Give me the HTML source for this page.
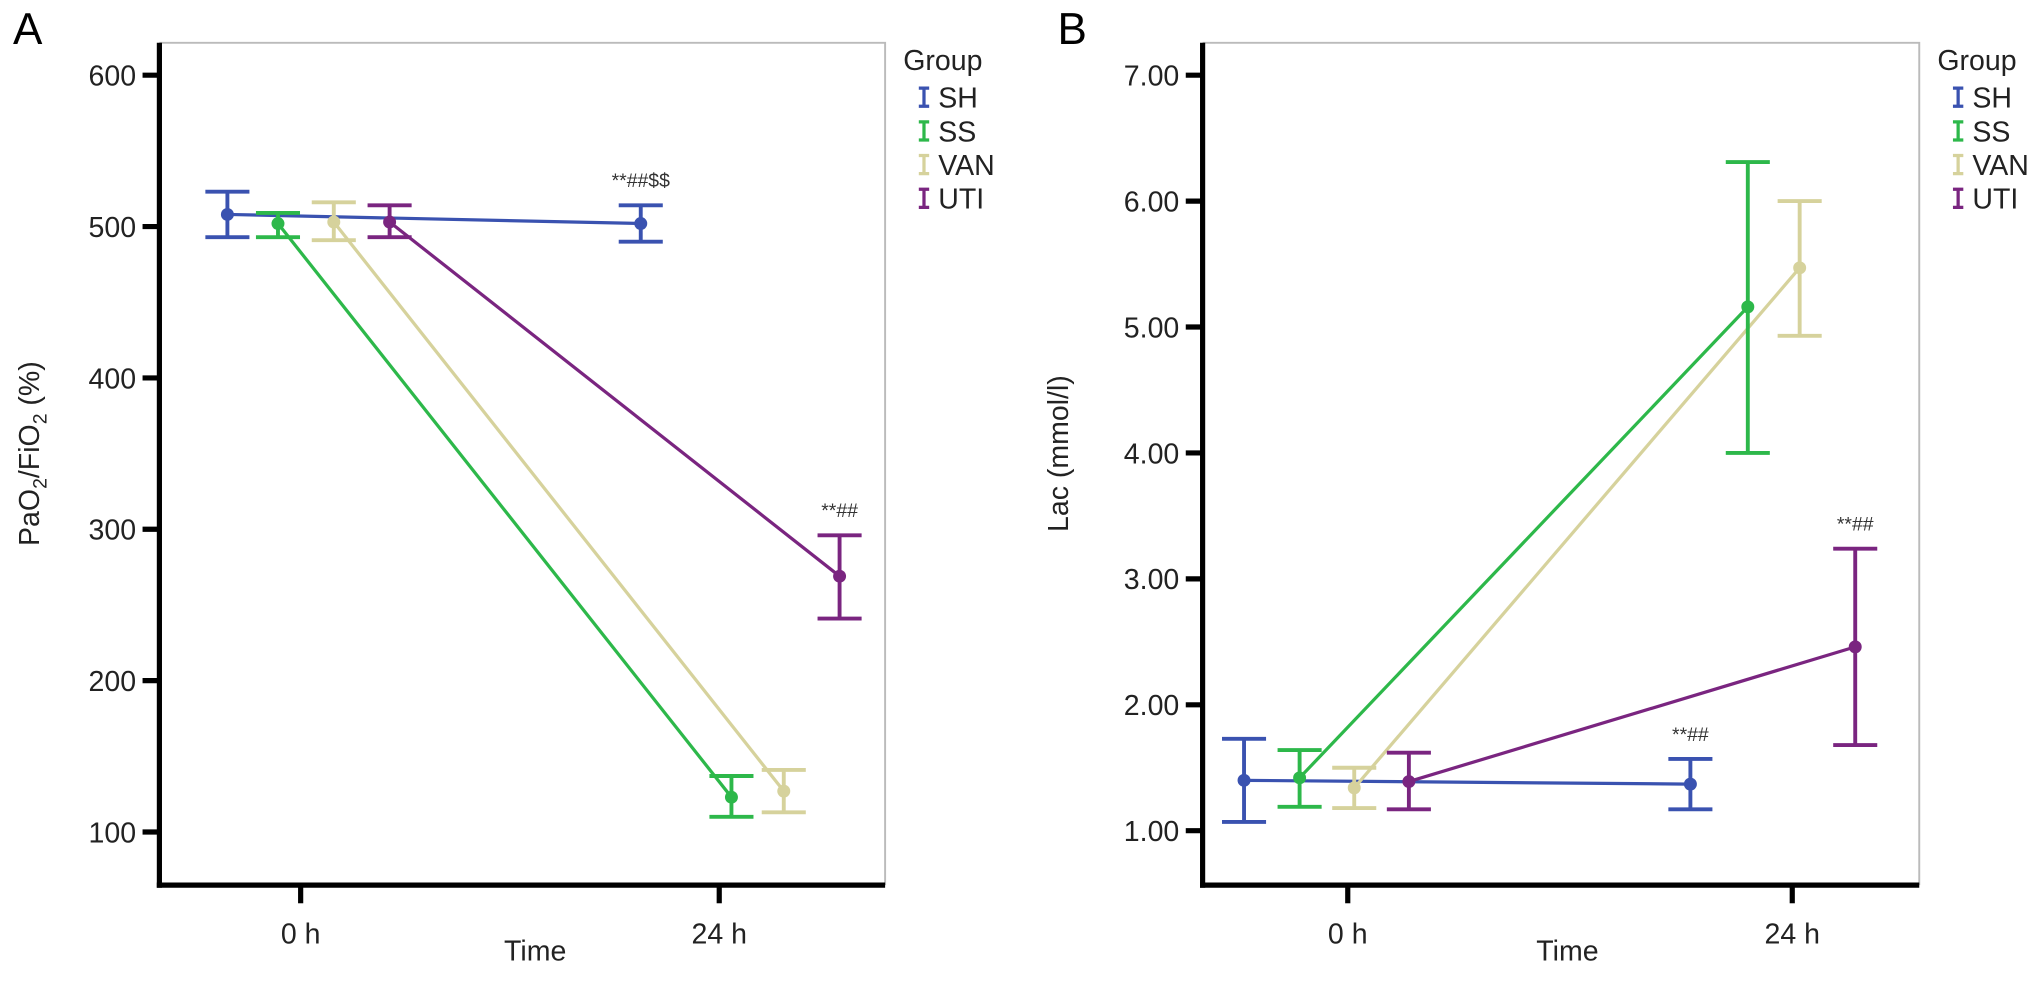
<!DOCTYPE html>
<html><head><meta charset="utf-8"><style>
body{margin:0;background:#fff;}
svg{display:block;font-family:"Liberation Sans",Arial,sans-serif;}
</style></head><body>
<svg id="fig" width="2032" height="983" viewBox="0 0 1568 758.5"></svg>
<script>
// ---- data ----
const groups = ["SH","SS","VAN","UTI"];
const colors = ["#3a52b0","#2db84a","#d6d29c","#7a2580"];
const timeLabels = ["0 h","24 h"];
// Panel A: PaO2/FiO2
const aTicks = [100,200,300,400,500,600];
const aHours = [[-4.2,19.5],[-1.3,24.7],[1.9,27.7],[5.1,30.9]];
const aMean = [[508,502],[502,123],[503,127],[503,269]];
const aLow  = [[493,490],[493,110],[491,113],[493,241]];
const aHigh = [[523,514],[509,137],[516,141],[514,296]];
const aNotes = [{g:0,t:1,text:"**##$$"},{g:3,t:1,text:"**##"}];
// Panel B: Lac
const bTicks = [1,2,3,4,5,6,7];
const bHours = [[-5.6,18.5],[-2.6,21.6],[0.35,24.4],[3.3,27.4]];
const bMean = [[1.40,1.37],[1.42,5.16],[1.34,5.47],[1.39,2.46]];
const bLow  = [[1.07,1.17],[1.19,4.00],[1.18,4.93],[1.17,1.68]];
const bHigh = [[1.73,1.57],[1.64,6.31],[1.50,6.00],[1.62,3.24]];
const bNotes = [{g:0,t:1,text:"**##"},{g:3,t:1,text:"**##"}];

const NS="http://www.w3.org/2000/svg";
const svg=document.getElementById('fig');
function mk(tag,attrs,parent,text){const e=document.createElementNS(NS,tag);for(const k in attrs)e.setAttribute(k,attrs[k]);if(text!==undefined)e.textContent=text;(parent||svg).appendChild(e);return e;}

function panel(cfg){
  const g=mk('g',{});
  
  
  const L=cfg.left,R=cfg.right,T=33,B=683;
  const y=v=>cfg.y0+(v-cfg.v0)*(cfg.y1-cfg.y0)/(cfg.v1-cfg.v0);
  const x=h=>cfg.x0+h*(cfg.x24-cfg.x0)/24;
  const frame=mk('path',{d:`M${L} ${T}H${R}V${B}`,fill:'none',stroke:'#bbb','stroke-width':1.5},g);
  
  const ya=mk('line',{x1:L,y1:T,x2:L,y2:B+2,stroke:'#000','stroke-width':4},g);
  
  const xa=mk('line',{x1:L-2,y1:B,x2:R,y2:B,stroke:'#000','stroke-width':4},g);
  
  cfg.ticks.forEach(v=>{
    const tk=mk('line',{x1:L-13,x2:L,y1:y(v),y2:y(v),stroke:'#000','stroke-width':4},g);
    
    const t=mk('text',{x:L-18,y:y(v)+8,'text-anchor':'end','font-size':22,fill:'#222'},g,cfg.fmt(v));
    
  });
  timeLabels.forEach((lab,i)=>{
    const h=i*24;
    const tk=mk('line',{x1:x(h),x2:x(h),y1:B,y2:B+14,stroke:'#000','stroke-width':4},g);
    
    const t=mk('text',{x:x(h),y:B+45,'text-anchor':'middle','font-size':22,fill:'#222'},g,lab);
    
  });
  const xt=mk('text',{x:(L+R)/2-(cfg.name==='panel-a'?-10:-5),y:741,'text-anchor':'middle','font-size':22,fill:'#222'},g,'Time');
  
  const yt=mk('text',{transform:`translate(${cfg.ytx},350) rotate(-90)`,'text-anchor':'middle','font-size':22,fill:'#222'},g);
  yt.innerHTML=cfg.ytitle;
  
  const pl=mk('text',{x:cfg.labx,y:34,'font-size':34,fill:'#000'},g,cfg.letter);
  
  groups.forEach((gn,i)=>{
    const line=mk('line',{x1:x(cfg.hours[i][0]),y1:y(cfg.mean[i][0]),x2:x(cfg.hours[i][1]),y2:y(cfg.mean[i][1]),stroke:colors[i],'stroke-width':2.5},g);
    
  });
  groups.forEach((gn,i)=>{
    for(let t=0;t<2;t++){
      const cx=x(cfg.hours[i][t]);
      const eb=mk('path',{d:`M${cx-17} ${y(cfg.high[i][t])}H${cx+17}M${cx} ${y(cfg.high[i][t])}V${y(cfg.low[i][t])}M${cx-17} ${y(cfg.low[i][t])}H${cx+17}`,stroke:colors[i],'stroke-width':3,fill:'none'},g);
      
      const p=mk('circle',{cx:cx,cy:y(cfg.mean[i][t]),r:5,fill:colors[i]},g);
      
    }
  });
  cfg.notes.forEach(n=>{
    const t=mk('text',{x:x(cfg.hours[n.g][n.t]),y:y(cfg.high[n.g][n.t])-14,'text-anchor':'middle','font-size':15,fill:'#333'},g,n.text);
    
  });
  const lg=mk('g',{},g);
  
  const lt=mk('text',{x:cfg.legx,y:54,'font-size':22,fill:'#222'},lg,'Group');
  
  groups.forEach((gn,i)=>{
    const yy=75+i*26;
    const ic=mk('path',{d:`M${cfg.legx+12} ${yy-7}h8M${cfg.legx+16} ${yy-7}v14M${cfg.legx+12} ${yy+7}h8`,stroke:colors[i],'stroke-width':2.5,fill:'none'},lg);
    
    const t=mk('text',{x:cfg.legx+27,y:yy+8,'font-size':22,fill:'#222'},lg,gn);
    
  });
}
panel({name:'panel-a',letter:'A',labx:10,left:123,right:683,y0:642,y1:58,v0:100,v1:600,x0:232,x24:555,
  ticks:aTicks,fmt:v=>String(v),hours:aHours,mean:aMean,low:aLow,high:aHigh,notes:aNotes,legx:697,ytx:30,
  ytitle:'PaO<tspan font-size="15" dy="6">2</tspan><tspan dy="-6">/FiO</tspan><tspan font-size="15" dy="6">2</tspan><tspan dy="-6"> (%)</tspan>'});
panel({name:'panel-b',letter:'B',labx:816,left:928,right:1481,y0:641,y1:58,v0:1,v1:7,x0:1040,x24:1383,
  ticks:bTicks,fmt:v=>v.toFixed(2),hours:bHours,mean:bMean,low:bLow,high:bHigh,notes:bNotes,legx:1495,ytx:824,
  ytitle:'Lac (mmol/l)'});
</script>
</body></html>
